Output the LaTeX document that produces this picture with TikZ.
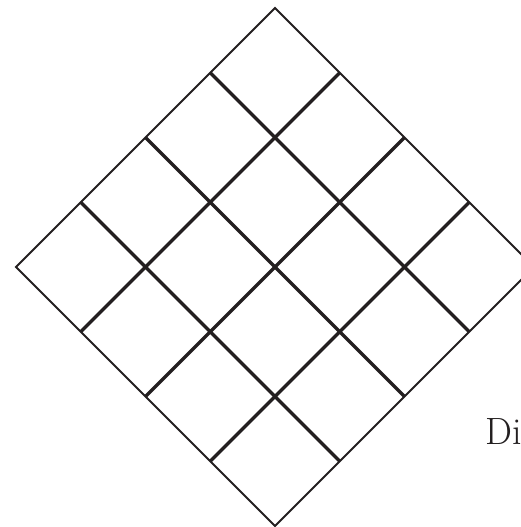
\documentclass[tikz,border=0pt]{standalone}
\usetikzlibrary{calc}
\definecolor{ink}{HTML}{231F20}
\begin{document}
\begin{tikzpicture}[x=1pt,y=-1pt,
  outer/.style={draw=ink,line width=2pt,line join=miter},
  inner/.style={draw=ink,line width=3.3pt},
  lbl/.style={text=ink,inner sep=0pt,anchor=base west,font=\fontsize{38}{40}\selectfont}]
\useasboundingbox (0,0) rectangle (520,527);
\coordinate (L) at (16,267);
\coordinate (T) at (275,8);
\coordinate (R) at (534,267);
\coordinate (B) at (275,526);
% inner grid lines
\foreach \i in {1,2,3}{
  \draw[inner] ($(L)!\i/4!(T)$) -- ($(B)!\i/4!(R)$);
  \draw[inner] ($(L)!\i/4!(B)$) -- ($(T)!\i/4!(R)$);
}
\draw[outer] (L) -- (T) -- (R) -- (B) -- cycle;
\node[lbl] (txt) at (485,444) {Di};
\end{tikzpicture}
\end{document}
